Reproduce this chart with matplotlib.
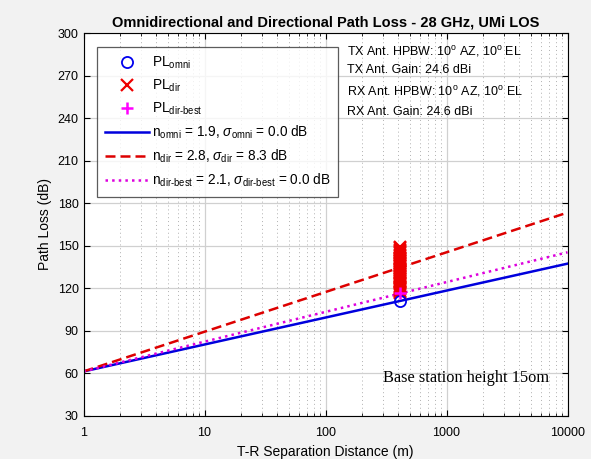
import numpy as np
from matplotlib import pyplot as plt
from matplotlib.ticker import FixedLocator, NullFormatter

# fitted path loss model, PL(d) = fspl + 10 n log10(d)
fspl = 61.4
n_omni = 1.9
n_dir = 2.8
n_dir_best = 2.1

# measured points, one receiver location
d_meas = 415
pl_omni = [111.1]
pl_dir_best = [116.4]
pl_dir = [149.0, 148.1, 147.2, 146.5, 145.4, 144.6, 143.8, 142.9, 141.7,
          140.8, 139.9, 139.1, 138.0, 137.2, 136.3, 135.5, 134.4, 133.6, 132.7,
          131.8, 130.9, 130.1, 129.0, 128.2, 127.3, 126.5, 125.4, 124.6, 123.7,
          122.8, 121.9, 121.1, 120.0, 119.2, 118.3, 117.5, 116.8]

yticks = [30, 60, 90, 120, 150, 180, 210, 240, 270, 300]
xticks = [1, 10, 100, 1000, 10000]
xlabels = ['1', '10', '100', '1000', '10000']

plt.rcParams['font.family'] = ['Liberation Sans', 'DejaVu Sans']
plt.rcParams['mathtext.fontset'] = 'custom'
plt.rcParams['mathtext.rm'] = 'Liberation Sans'
plt.rcParams['mathtext.it'] = 'Liberation Sans:italic'

fig = plt.figure(figsize=(5.91, 4.59), dpi=100, facecolor='#f2f2f2')
ax = fig.add_axes([83.5/591, 1 - 416/459, 484/591, 383/459])

d = np.logspace(0, 4, 200)
ax.plot([d_meas], pl_omni, 'o', mfc='none', mec='#0000ee', ms=8, mew=1.3,
        label=r'PL$_{\rm omni}$', zorder=5)
ax.plot([d_meas] * len(pl_dir), pl_dir, 'x', color='#ee0000', ms=8, mew=1.6,
        label=r'PL$_{\rm dir}$', zorder=4)
ax.plot([d_meas], pl_dir_best, '+', color='#ff00ff', ms=9, mew=1.8,
        label=r'PL$_{\text{dir-best}}$', zorder=6)
ax.plot(d, fspl + 10 * n_omni * np.log10(d), '-', color='#0000dd', lw=1.8,
        label=r'n$_{\rm omni}$ = 1.9, $\sigma_{\rm omni}$ = 0.0 dB')
ax.plot(d, fspl + 10 * n_dir * np.log10(d), '--', color='#dd0000', lw=1.8,
        dashes=(4, 2), label=r'n$_{\rm dir}$ = 2.8, $\sigma_{\rm dir}$ = 8.3 dB')
ax.plot(d, fspl + 10 * n_dir_best * np.log10(d), ':', color='#dd00dd', lw=1.8,
        label=r'n$_{\text{dir-best}}$ = 2.1, $\sigma_{\text{dir-best}}$ = 0.0 dB')

ax.set_xscale('log')
ax.set_xlim(1, 10000)
ax.set_ylim(30, 300)
ax.set_yticks(yticks)
ax.xaxis.set_major_locator(FixedLocator(xticks))
ax.set_xticklabels(xlabels)
ax.xaxis.set_minor_formatter(NullFormatter())
ax.tick_params(which='both', direction='in', top=True, right=True, labelsize=9)
ax.tick_params(which='major', length=4)
ax.tick_params(which='minor', length=2)
ax.tick_params(axis='x', pad=8)
ax.grid(True, which='major', color='#d0d0d0', lw=0.9, ls='-')
ax.grid(True, which='minor', axis='x', color='#b0b0b0', lw=0.7, ls=(0, (1, 3)))
ax.set_axisbelow(True)

ax.set_title('Omnidirectional and Directional Path Loss - 28 GHz, UMi LOS',
             fontsize=10.5, fontweight='bold', pad=5)
ax.set_xlabel('T-R Separation Distance (m)', fontsize=10)
ax.set_ylabel('Path Loss (dB)', fontsize=10)

leg = ax.legend(loc='upper left', bbox_to_anchor=(0.028, 0.963), fontsize=9.8,
                frameon=True, fancybox=False, edgecolor='#333333',
                handlelength=3.3, handletextpad=0.2, labelspacing=0.49,
                borderpad=0.55, borderaxespad=0)
leg.get_frame().set_linewidth(0.9)

ax.text(0.545, 0.951, r'TX Ant. HPBW: 10$^{\rm o}$ AZ, 10$^{\rm o}$ EL',
        transform=ax.transAxes, fontsize=9, va='center')
ax.text(0.545, 0.903, 'TX Ant. Gain: 24.6 dBi', transform=ax.transAxes,
        fontsize=9, va='center')
ax.text(0.545, 0.846, r'RX Ant. HPBW: 10$^{\rm o}$ AZ, 10$^{\rm o}$ EL',
        transform=ax.transAxes, fontsize=9, va='center')
ax.text(0.545, 0.794, 'RX Ant. Gain: 24.6 dBi', transform=ax.transAxes,
        fontsize=9, va='center')
ax.text(0.619, 0.099, 'Base station height 15om', transform=ax.transAxes,
        fontsize=11.8, family='Liberation Serif', va='center')

fig.savefig('out.png', dpi=100, facecolor=fig.get_facecolor())
